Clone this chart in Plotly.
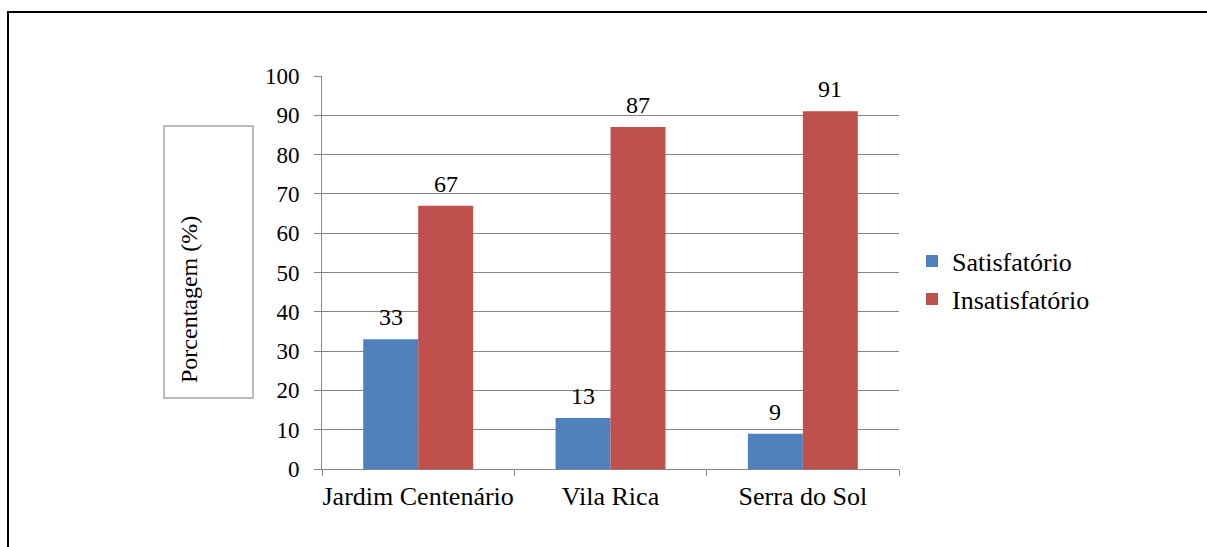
import plotly.graph_objects as go

categories = ["Jardim Centenário", "Vila Rica", "Serra do Sol"]
satisfatorio = [33, 13, 9]
insatisfatorio = [67, 87, 91]
series_names = ["Satisfatório", "Insatisfatório"]
series_colors = ["#4F81BD", "#C0504D"]
y_title = "Porcentagem (%)"

W, H = 1207, 547
L, R, T, B = 322, 899, 76, 469  # plot area in pixels

def px(x):
    return (x - L) / (R - L)

def py(y):
    return (B - y) / (B - T)

FONT = "Liberation Serif"
fig = go.Figure()
annotations = []
legend_y = [261, 299]
for i, (name, vals, col) in enumerate(zip(series_names, [satisfatorio, insatisfatorio], series_colors)):
    lg = "legend" if i == 0 else "legend2"
    fig.add_trace(go.Bar(
        name=name, x=categories, y=vals, marker=dict(color=col, line=dict(width=0)),
        legend=lg,
    ))
    shift = -27.5 if i == 0 else 27.5
    for c, v in zip(categories, vals):
        annotations.append(dict(x=c, y=v, xref="x", yref="y", text=str(v), showarrow=False,
                                xshift=shift, yshift=7, yanchor="bottom", xanchor="center",
                                font=dict(family=FONT, size=24, color="#000")))

annotations.append(dict(text=y_title, xref="paper", yref="paper", x=px(189), y=py(300),
                        textangle=-90, showarrow=False, xanchor="center", yanchor="middle",
                        font=dict(family=FONT, size=24, color="#000")))

def leg(yc):
    return dict(x=px(912), y=py(yc), xanchor="left", yanchor="middle",
                font=dict(family=FONT, size=26, color="#000"),
                itemwidth=30, bgcolor="rgba(0,0,0,0)")

fig.update_layout(
    width=W, height=H, barmode="group", bargap=0.4286, bargroupgap=0,
    paper_bgcolor="white", plot_bgcolor="white",
    margin=dict(l=L, r=W - R, t=T, b=H - B, pad=0, autoexpand=False),
    font=dict(family=FONT, size=24, color="#000"),
    showlegend=True,
    legend=leg(legend_y[0]),
    legend2=leg(legend_y[1]),
    xaxis=dict(showline=True, linecolor="#868686", linewidth=1, automargin=False,
               ticks="outside", tickson="boundaries", ticklen=6, tickcolor="#868686",
               ticklabelstandoff=4, tickangle=0,
               tickfont=dict(family=FONT, size=26, color="#000"), showgrid=False),
    yaxis=dict(range=[0, 100], dtick=10, showline=True, linecolor="#868686", linewidth=1,
               automargin=False,
               ticks="outside", ticklen=7, tickcolor="#868686", ticklabelstandoff=10,
               showgrid=True, gridcolor="#868686", gridwidth=1, zeroline=False,
               tickfont=dict(family=FONT, size=23, color="#000")),
    shapes=[
        dict(type="line", xref="paper", yref="paper", x0=px(8), x1=px(1210), y0=py(12), y1=py(12),
             line=dict(color="#000", width=2)),
        dict(type="line", xref="paper", yref="paper", x0=px(8), x1=px(8), y0=py(11), y1=py(560),
             line=dict(color="#000", width=2)),
        dict(type="rect", xref="paper", yref="paper", x0=px(164), x1=px(253), y0=py(126), y1=py(398),
             line=dict(color="#A6A6A6", width=1.5), fillcolor="white", layer="below"),
    ],
    annotations=annotations,
)

fig.write_html("out.html")
